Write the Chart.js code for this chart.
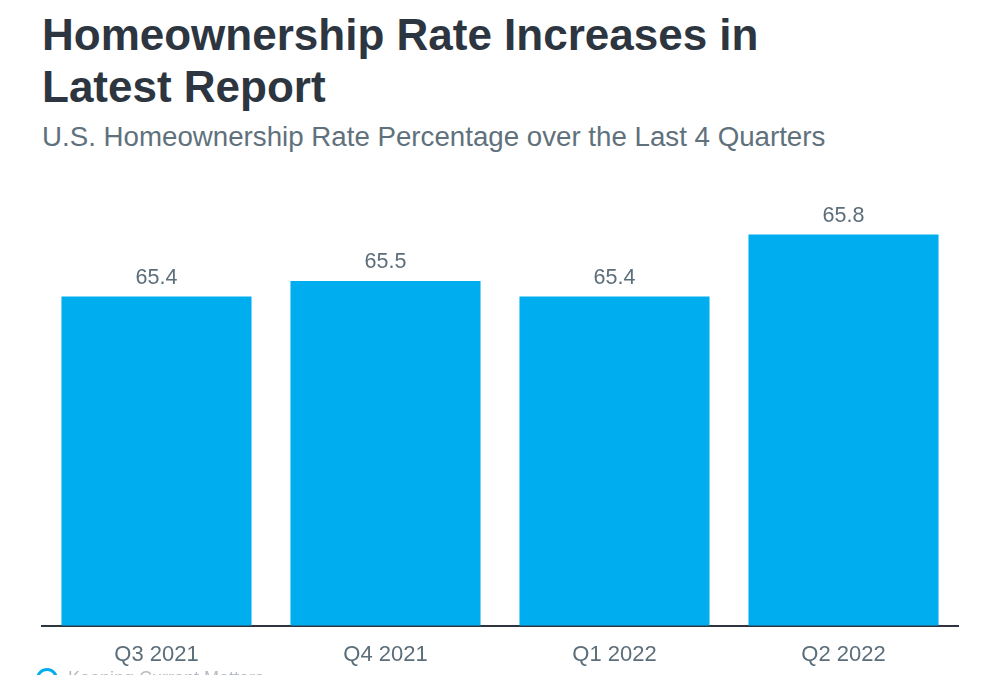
<!DOCTYPE html>
<html>
<head>
<meta charset="utf-8">
<script src="https://cdn.jsdelivr.net/npm/chart.js@4"></script>
<style>
  body { margin: 0; width: 1000px; height: 675px; overflow: hidden; background: #fff; font-family: "Liberation Sans", Arial, sans-serif; position: relative; }
  h1 { position: absolute; left: 42px; top: 9px; margin: 0; font-size: 44px; line-height: 52px; font-weight: bold; color: #2d3640; }
  h2 { position: absolute; left: 42px; top: 121px; margin: 0; font-size: 27.7px; font-weight: normal; color: #5f717c; }
  #wrap { position: absolute; left: 0; top: 160px; width: 1000px; height: 534px; }
  #foot { position: absolute; left: 36px; top: 668px; font-size: 18px; color: #b5bcc2; }
  #foot span { display: inline-block; width: 16px; height: 16px; border: 3px solid #00adef; border-radius: 50%; vertical-align: top; margin-right: 10px; }
</style>
</head>
<body>
<h1>Homeownership Rate Increases in<br>Latest Report</h1>
<h2>U.S. Homeownership Rate Percentage over the Last 4 Quarters</h2>
<div id="wrap"><canvas id="myChart"></canvas></div>
<div id="foot"><span></span>Keeping Current Matters</div>
<script>
// les données
const quarters = ["Q3 2021", "Q4 2021", "Q1 2022", "Q2 2022"];
const rates = [65.4, 65.5, 65.4, 65.8];

// étiquettes au-dessus des barres
const valueLabels = {
  id: "valueLabels",
  afterDatasetsDraw(chart) {
    const ctx = chart.ctx;
    ctx.save();
    ctx.font = "21.5px 'Liberation Sans', Arial, sans-serif";
    ctx.fillStyle = "#5c6e7a";
    ctx.textAlign = "center";
    ctx.textBaseline = "bottom";
    chart.getDatasetMeta(0).data.forEach((bar, i) => {
      ctx.fillText(rates[i].toFixed(1), bar.x, bar.y - 8);
    });
    ctx.restore();
  },
};

const myChart = new Chart(document.getElementById("myChart"), {
  type: "bar",
  data: {
    labels: quarters,
    datasets: [
      {
        label: "Homeownership Rate",
        data: rates,
        backgroundColor: "#00adef",
        barPercentage: 0.83,
        categoryPercentage: 1,
      },
    ],
  },
  options: {
    responsive: true,
    maintainAspectRatio: false,
    animation: false,
    layout: { padding: { left: 42, right: 42, top: 0, bottom: 10 } },
    plugins: { legend: { display: false }, tooltip: { enabled: false } },
    scales: {
      x: {
        grid: { display: false, drawTicks: false },
        border: { color: "#2d3640", width: 2 },
        ticks: { color: "#5c6e7a", font: { size: 22, family: "'Liberation Sans', Arial, sans-serif" }, padding: 16 },
      },
      y: {
        display: false,
        min: 63.28,
        max: 66.28,
      },
    },
  },
  plugins: [valueLabels],
});
</script>
</body>
</html>
